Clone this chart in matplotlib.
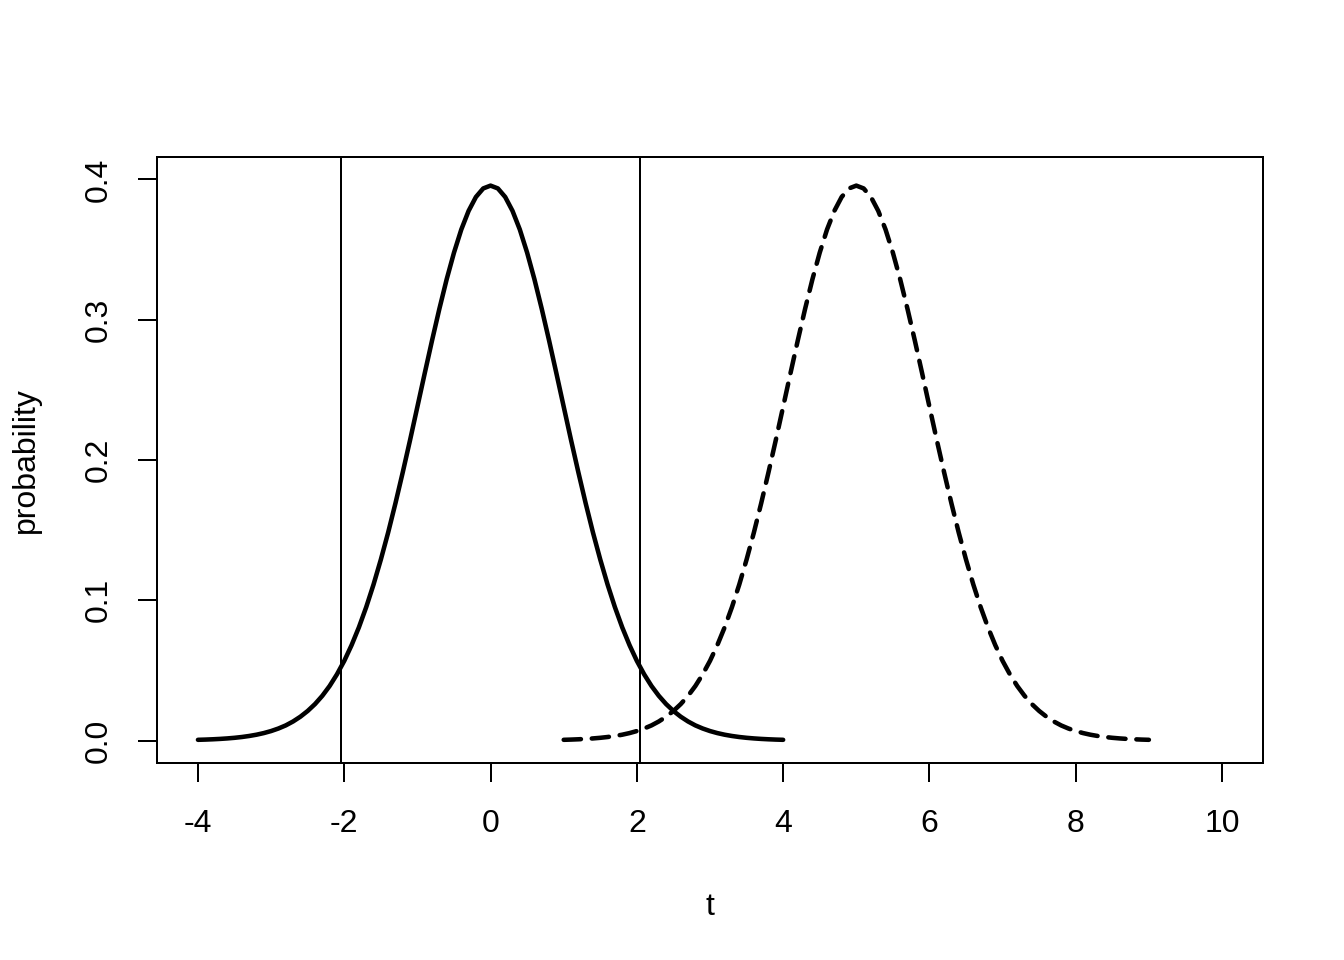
import matplotlib
matplotlib.use("Agg")
import matplotlib.pyplot as plt

plt.rcParams['font.family'] = ['Liberation Sans', 'DejaVu Sans']
plt.rcParams['axes.unicode_minus'] = False

# density values (half-curve, symmetric about the centre)
offsets = [0.0, 0.1, 0.2, 0.3, 0.4, 0.5, 0.6, 0.7, 0.8, 0.9, 1.0,
           1.1, 1.2, 1.3, 1.4, 1.5, 1.6, 1.7, 1.8, 1.9, 2.0,
           2.1, 2.2, 2.3, 2.4, 2.5, 2.6, 2.7, 2.8, 2.9, 3.0,
           3.1, 3.2, 3.3, 3.4, 3.5, 3.6, 3.7, 3.8, 3.9, 4.0]
density_half = [0.3956, 0.3936, 0.3875, 0.3776, 0.3643, 0.3478, 0.3288, 0.3077,
                0.2852, 0.2618, 0.2380, 0.2143, 0.1913, 0.1692, 0.1483, 0.1290,
                0.1112, 0.0951, 0.0807, 0.0680, 0.0568, 0.0472, 0.0389, 0.0319,
                0.0260, 0.0211, 0.0170, 0.0136, 0.0108, 0.00859, 0.00678,
                0.00533, 0.00417, 0.00326, 0.00253, 0.00196, 0.00152, 0.00117,
                0.00090, 0.00069, 0.00053]

null_center = 0.0
alt_center = 5.0
crit_values = [-2.042, 2.042]

x_ticks = [-4, -2, 0, 2, 4, 6, 8, 10]
y_ticks = [0.0, 0.1, 0.2, 0.3, 0.4]
y_ticklabels = ["0.0", "0.1", "0.2", "0.3", "0.4"]

# full curves built from the half curve
off_full = [-o for o in offsets[::-1]] + offsets[1:]
dens_full = density_half[::-1] + density_half[1:]
x_null = [null_center + o for o in off_full]
x_alt = [alt_center + o for o in off_full]

fig = plt.figure(figsize=(7, 5), dpi=192)
ax = fig.add_axes([157/1344, 1 - 763/960, (1263-157)/1344, (763-157)/960])

ax.plot(x_null, dens_full, color='black', lw=1.7, solid_capstyle='round',
        solid_joinstyle='round')
ax.plot(x_alt, dens_full, color='black', lw=1.7,
        linestyle=(0, (3.8, 2.4)), dash_capstyle='round', dash_joinstyle='round')
for c in crit_values:
    ax.axvline(c, color='black', lw=0.75)

ax.set_xlim(-4 - 0.56, 10 + 0.56)
ax.set_ylim(-0.016, 0.416)
ax.set_xticks(x_ticks)
ax.set_xticklabels([str(v) for v in x_ticks])
ax.set_yticks(y_ticks)
ax.set_yticklabels(y_ticklabels, rotation=90, va='center')
for s in ax.spines.values():
    s.set_linewidth(0.75)
ax.tick_params(axis='both', length=7.2, width=0.75, labelsize=12, pad=10)
ax.tick_params(axis='y', pad=9)

ax.set_xlabel("t", fontsize=12, labelpad=20)
ax.set_ylabel("probability", fontsize=12, labelpad=16)

fig.savefig("out.png", dpi=192)
